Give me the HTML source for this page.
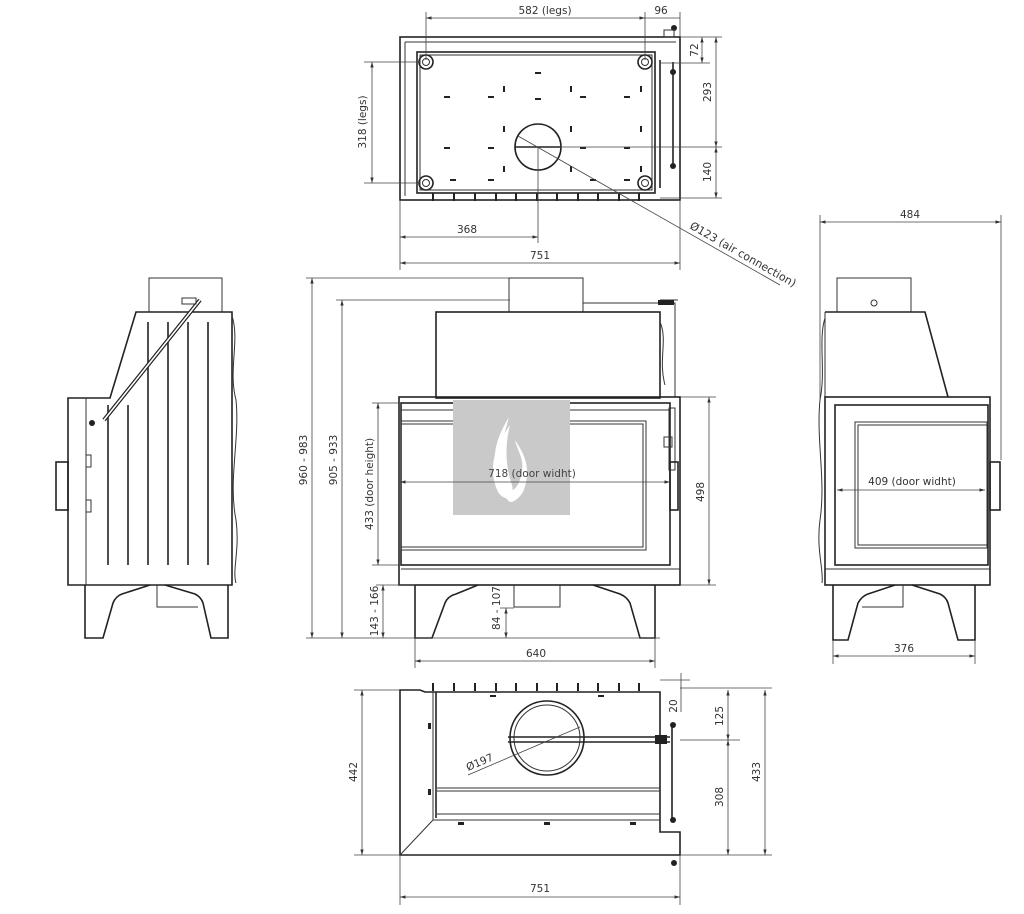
<!DOCTYPE html>
<html><head><meta charset="utf-8"><style>
html,body{margin:0;padding:0;background:#fff}
svg{display:block}
text{font-family:"DejaVu Sans","Liberation Sans",sans-serif;font-size:10.5px;fill:#333}
.t{stroke:#222;stroke-width:1.6;fill:none}
.m{stroke:#333;stroke-width:1;fill:none}
.d{stroke:#444;stroke-width:0.8;fill:none}
.b{fill:#222}
</style></head><body>
<svg width="1024" height="914" viewBox="0 0 1024 914" xmlns="http://www.w3.org/2000/svg">
<defs>
<marker id="a" viewBox="0 0 10 10" refX="10" refY="5" markerWidth="7" markerHeight="7" orient="auto-start-reverse"><path d="M0,2 L10,5 L0,8 z" fill="#333"/></marker>
</defs>

<!-- ============ TOP VIEW ============ -->
<g>
<rect x="400" y="37" width="280" height="163" class="t"/>
<path d="M405,42 H676 M405,42 V196" class="m"/>
<rect x="417" y="52" width="238" height="141" class="t"/>
<rect x="420" y="55" width="232" height="135" class="m"/>
<g class="t"><circle cx="426" cy="62" r="7"/><circle cx="645" cy="62" r="7"/><circle cx="426" cy="183" r="7"/><circle cx="645" cy="183" r="7"/></g>
<g class="m"><circle cx="426" cy="62" r="3.5"/><circle cx="645" cy="62" r="3.5"/><circle cx="426" cy="183" r="3.5"/><circle cx="645" cy="183" r="3.5"/></g>
<circle cx="538" cy="147" r="23" class="t"/>
<line x1="515" y1="147" x2="561" y2="147" class="t"/>
<g class="b">
<rect x="432" y="193" width="2" height="8"/><rect x="453" y="193" width="2" height="8"/><rect x="474" y="193" width="2" height="8"/><rect x="495" y="193" width="2" height="8"/><rect x="515" y="193" width="2" height="8"/><rect x="536" y="193" width="2" height="8"/><rect x="556" y="193" width="2" height="8"/><rect x="577" y="193" width="2" height="8"/><rect x="597" y="193" width="2" height="8"/><rect x="618" y="193" width="2" height="8"/><rect x="638" y="193" width="2" height="8"/>
<rect x="444" y="96" width="6" height="2"/><rect x="488" y="96" width="6" height="2"/><rect x="535" y="98" width="6" height="2"/><rect x="580" y="96" width="6" height="2"/><rect x="624" y="96" width="6" height="2"/>
<rect x="444" y="147" width="6" height="2"/><rect x="488" y="147" width="6" height="2"/><rect x="580" y="147" width="6" height="2"/><rect x="624" y="147" width="6" height="2"/>
<rect x="450" y="179" width="6" height="2"/><rect x="488" y="179" width="6" height="2"/><rect x="590" y="179" width="6" height="2"/><rect x="624" y="179" width="6" height="2"/>
<rect x="535" y="72" width="6" height="2"/>
<rect x="503" y="86" width="2" height="6"/><rect x="570" y="86" width="2" height="6"/><rect x="640" y="86" width="2" height="6"/>
<rect x="503" y="126" width="2" height="6"/><rect x="570" y="126" width="2" height="6"/><rect x="640" y="126" width="2" height="6"/>
<rect x="503" y="166" width="2" height="6"/><rect x="570" y="166" width="2" height="6"/><rect x="640" y="166" width="2" height="6"/>
</g>
<path d="M660,60 V188 M673,62 V165" class="t"/>
<circle cx="673" cy="72" r="3" class="b"/><circle cx="673" cy="166" r="3" class="b"/><circle cx="674" cy="28" r="3" class="b"/>
<rect x="664" y="30" width="10" height="7" class="m"/>
<!-- dims -->
<path d="M426,12 V60 M645,12 V60 M680,12 V37" class="d"/>
<line x1="426" y1="18" x2="645" y2="18" class="d" marker-start="url(#a)" marker-end="url(#a)"/>
<line x1="645" y1="18" x2="680" y2="18" class="d"/>
<text x="545" y="14" text-anchor="middle">582 (legs)</text>
<text x="661" y="14" text-anchor="middle">96</text>
<path d="M680,37 H722 M660,63 H710 M560,147 H722 M660,198 H722" class="d"/>
<line x1="702" y1="37" x2="702" y2="63" class="d" marker-start="url(#a)" marker-end="url(#a)"/>
<line x1="716" y1="37" x2="716" y2="147" class="d" marker-start="url(#a)" marker-end="url(#a)"/>
<line x1="716" y1="147" x2="716" y2="198" class="d" marker-start="url(#a)" marker-end="url(#a)"/>
<text transform="translate(698,50) rotate(-90)" text-anchor="middle">72</text>
<text transform="translate(711,92) rotate(-90)" text-anchor="middle">293</text>
<text transform="translate(711,172) rotate(-90)" text-anchor="middle">140</text>
<path d="M364,62 H420 M364,183 H420" class="d"/>
<line x1="372" y1="62" x2="372" y2="183" class="d" marker-start="url(#a)" marker-end="url(#a)"/>
<text transform="translate(366,122) rotate(-90)" text-anchor="middle">318 (legs)</text>
<path d="M400,200 V270 M680,200 V270 M538,147 V243" class="d"/>
<line x1="400" y1="237" x2="538" y2="237" class="d" marker-start="url(#a)" marker-end="url(#a)"/>
<text x="467" y="233" text-anchor="middle">368</text>
<line x1="400" y1="263" x2="680" y2="263" class="d" marker-start="url(#a)" marker-end="url(#a)"/>
<text x="540" y="259" text-anchor="middle">751</text>
<line x1="518" y1="136" x2="780" y2="285" class="d"/>
<text transform="translate(689,228) rotate(29.6)" style="font-size:11px">Ø123 (air connection)</text>
</g>

<!-- ============ LEFT SIDE VIEW ============ -->
<g>
<rect x="149" y="278" width="73" height="34" class="m"/>
<path d="M68,398 H110 L136,312 H232 V585 H68 Z" class="t"/>
<line x1="86" y1="398" x2="86" y2="585" class="m"/>
<path d="M232,316 C240,340 228,370 236,400 C240,440 228,480 236,520 C240,550 232,570 236,583" class="m"/>
<g class="t"><line x1="108" y1="405" x2="108" y2="565"/><line x1="128" y1="405" x2="128" y2="565"/><line x1="148" y1="322" x2="148" y2="565"/><line x1="168" y1="322" x2="168" y2="565"/><line x1="188" y1="322" x2="188" y2="565"/><line x1="208" y1="322" x2="208" y2="565"/></g>
<line x1="104" y1="420" x2="200" y2="300" stroke="#222" stroke-width="4"/>
<line x1="104" y1="420" x2="200" y2="300" stroke="#fff" stroke-width="1.6"/>
<circle cx="92" cy="423" r="3" class="b"/>
<rect x="56" y="462" width="12" height="48" class="t"/>
<rect x="86" y="455" width="5" height="12" class="m"/><rect x="86" y="500" width="5" height="12" class="m"/>
<rect x="182" y="298" width="14" height="6" class="m"/>
<path d="M85,585 V638 H103 L113,603 Q116,596 122,594 L150,585 M165,585 L195,594 Q201,597 203,603 L211,638 H228 V585" class="t"/>
<path d="M157,585 V607 H198" class="m"/>
</g>

<!-- ============ FRONT VIEW ============ -->
<g>
<rect x="509" y="278" width="74" height="34" class="m"/>
<rect x="436" y="312" width="224" height="86" class="t"/>
<path d="M583,303 H675 V397 M660,300 H678" class="m"/>
<rect x="658" y="300" width="16" height="5" class="b"/>
<path d="M660,322 C668,340 658,360 665,385" class="m"/>
<rect x="399" y="397" width="281" height="188" class="t"/>
<rect x="401" y="403" width="269" height="162" class="t"/>
<line x1="401" y1="410" x2="670" y2="410" class="m"/>
<rect x="401" y="421" width="245" height="129" class="m"/>
<rect x="401" y="424" width="242" height="123" class="m"/>
<line x1="401" y1="569" x2="680" y2="569" class="m"/>
<rect x="669" y="408" width="6" height="62" class="m"/>
<rect x="670" y="462" width="8" height="48" class="t"/>
<rect x="664" y="437" width="8" height="10" class="m"/>
<!-- watermark -->
<rect x="453" y="400" width="117" height="115" fill="#c9c9c9"/>
<path d="M509,417 C495,440 490,460 500,480 C510,500 520,488 522,470 C524,458 517,450 515,440 C525,455 532,470 523,492 C518,500 510,505 508,500 C497,492 494,470 509,417 Z" fill="#fff"/>
<path d="M510,425 C505,445 505,465 512,485 C515,500 505,502 498,492 C488,470 493,450 510,425 Z" fill="#fff"/>
<line x1="400" y1="482" x2="670" y2="482" class="d" marker-start="url(#a)" marker-end="url(#a)"/>
<text x="532" y="477" text-anchor="middle" style="fill:#444">718 (door widht)</text>
<!-- legs -->
<path d="M415,585 V638 H432 L445,603 Q448,596 456,594 L478,585 M593,585 L620,594 Q627,597 630,603 L640,638 H655 V585" class="t"/>
<path d="M514,585 V607 H560 V585" class="m"/>
<!-- dims -->
<path d="M306,278 H509 M336,300 H510 M306,638 H660 M372,403 H401 M372,565 H401 M680,397 H716 M680,585 H716 M376,585 H415 M500,608 H514" class="d"/>
<line x1="312" y1="278" x2="312" y2="638" class="d" marker-start="url(#a)" marker-end="url(#a)"/>
<line x1="342" y1="300" x2="342" y2="638" class="d" marker-start="url(#a)" marker-end="url(#a)"/>
<line x1="378" y1="403" x2="378" y2="565" class="d" marker-start="url(#a)" marker-end="url(#a)"/>
<line x1="709" y1="397" x2="709" y2="585" class="d" marker-start="url(#a)" marker-end="url(#a)"/>
<line x1="383" y1="585" x2="383" y2="638" class="d" marker-start="url(#a)" marker-end="url(#a)"/>
<line x1="506" y1="608" x2="506" y2="638" class="d" marker-start="url(#a)" marker-end="url(#a)"/>
<text transform="translate(307,460) rotate(-90)" text-anchor="middle">960 - 983</text>
<text transform="translate(337,460) rotate(-90)" text-anchor="middle">905 - 933</text>
<text transform="translate(373,484) rotate(-90)" text-anchor="middle">433 (door height)</text>
<text transform="translate(704,492) rotate(-90)" text-anchor="middle">498</text>
<text transform="translate(378,611) rotate(-90)" text-anchor="middle">143 - 166</text>
<text transform="translate(500,608) rotate(-90)" text-anchor="middle">84 - 107</text>
<path d="M415,638 V668 M655,638 V668" class="d"/>
<line x1="415" y1="661" x2="655" y2="661" class="d" marker-start="url(#a)" marker-end="url(#a)"/>
<text x="536" y="657" text-anchor="middle">640</text>
</g>

<!-- ============ RIGHT SIDE VIEW ============ -->
<g>
<rect x="837" y="278" width="74" height="34" class="m"/>
<circle cx="874" cy="303" r="3" class="m"/>
<path d="M825,312 H925 L948,397" class="t"/>
<line x1="825" y1="312" x2="825" y2="397" class="m"/>
<path d="M825,318 C818,340 826,370 820,400 C816,440 826,480 820,520 C816,550 824,570 822,583" class="m"/>
<rect x="825" y="397" width="165" height="188" class="t"/>
<rect x="835" y="405" width="153" height="160" class="t"/>
<rect x="855" y="422" width="132" height="126" class="m"/>
<rect x="858" y="425" width="129" height="120" class="m"/>
<line x1="825" y1="569" x2="990" y2="569" class="m"/>
<rect x="990" y="462" width="10" height="48" class="t"/>
<line x1="837" y1="490" x2="985" y2="490" class="d" marker-start="url(#a)" marker-end="url(#a)"/>
<text x="912" y="485" text-anchor="middle">409 (door widht)</text>
<path d="M833,585 V640 H848 L858,603 Q862,596 868,594 L895,585 M912,585 L940,594 Q946,597 948,603 L958,640 H975 V585" class="t"/>
<path d="M903,585 V607 H862" class="m"/>
<path d="M820,215 V400 M1001,215 V460 M833,640 V664 M975,640 V664" class="d"/>
<line x1="820" y1="222" x2="1001" y2="222" class="d" marker-start="url(#a)" marker-end="url(#a)"/>
<text x="910" y="218" text-anchor="middle">484</text>
<line x1="833" y1="656" x2="975" y2="656" class="d" marker-start="url(#a)" marker-end="url(#a)"/>
<text x="904" y="652" text-anchor="middle">376</text>
</g>

<!-- ============ BOTTOM VIEW ============ -->
<g>
<path d="M400,690 H420 L425,692 H660 V832 H680 V855 H400 Z" class="t"/>
<path d="M433,692 V820 H660 M400,855 L433,820" class="m"/>
<line x1="436" y1="692" x2="436" y2="818" class="t"/>
<path d="M437,788 H660 M437,791 H660 M437,814 H660" class="m"/>
<g class="b">
<rect x="432" y="683" width="2" height="8"/><rect x="453" y="683" width="2" height="8"/><rect x="474" y="683" width="2" height="8"/><rect x="495" y="683" width="2" height="8"/><rect x="515" y="683" width="2" height="8"/><rect x="536" y="683" width="2" height="8"/><rect x="556" y="683" width="2" height="8"/><rect x="577" y="683" width="2" height="8"/><rect x="597" y="683" width="2" height="8"/><rect x="618" y="683" width="2" height="8"/><rect x="638" y="683" width="2" height="8"/>
<rect x="428" y="723" width="3" height="6"/><rect x="428" y="789" width="3" height="6"/><rect x="458" y="822" width="6" height="3"/><rect x="544" y="822" width="6" height="3"/><rect x="630" y="822" width="6" height="3"/>
<rect x="490" y="695" width="6" height="2"/><rect x="598" y="695" width="6" height="2"/>
</g>
<circle cx="547" cy="738" r="37" class="t"/>
<circle cx="547" cy="738" r="33" class="m"/>
<path d="M508,737 H670 M508,742 H670" class="t"/>
<rect x="655" y="735" width="12" height="9" class="b"/>
<path d="M672,725 V820" class="t"/>
<circle cx="673" cy="725" r="3" class="b"/><circle cx="673" cy="820" r="3" class="b"/><circle cx="674" cy="863" r="3" class="b"/>
<line x1="468" y1="775" x2="580" y2="727" class="d"/>
<text transform="translate(468,771) rotate(-23)">Ø197</text>
<!-- dims -->
<path d="M354,690 H400 M354,855 H400 M680,688 H772 M660,680 H690 M680,740 H740 M680,855 H772" class="d"/>
<line x1="362" y1="690" x2="362" y2="855" class="d" marker-start="url(#a)" marker-end="url(#a)"/>
<text transform="translate(357,772) rotate(-90)" text-anchor="middle">442</text>
<line x1="765" y1="690" x2="765" y2="855" class="d" marker-start="url(#a)" marker-end="url(#a)"/>
<text transform="translate(760,772) rotate(-90)" text-anchor="middle">433</text>
<line x1="728" y1="690" x2="728" y2="740" class="d" marker-start="url(#a)" marker-end="url(#a)"/>
<text transform="translate(723,716) rotate(-90)" text-anchor="middle">125</text>
<line x1="728" y1="740" x2="728" y2="855" class="d" marker-start="url(#a)" marker-end="url(#a)"/>
<text transform="translate(723,797) rotate(-90)" text-anchor="middle">308</text>
<line x1="681" y1="673" x2="681" y2="712" class="d"/>
<text transform="translate(677,706) rotate(-90)" text-anchor="middle">20</text>
<path d="M400,855 V905 M680,855 V905" class="d"/>
<line x1="400" y1="897" x2="680" y2="897" class="d" marker-start="url(#a)" marker-end="url(#a)"/>
<text x="540" y="892" text-anchor="middle">751</text>
</g>
</svg>
</body></html>
